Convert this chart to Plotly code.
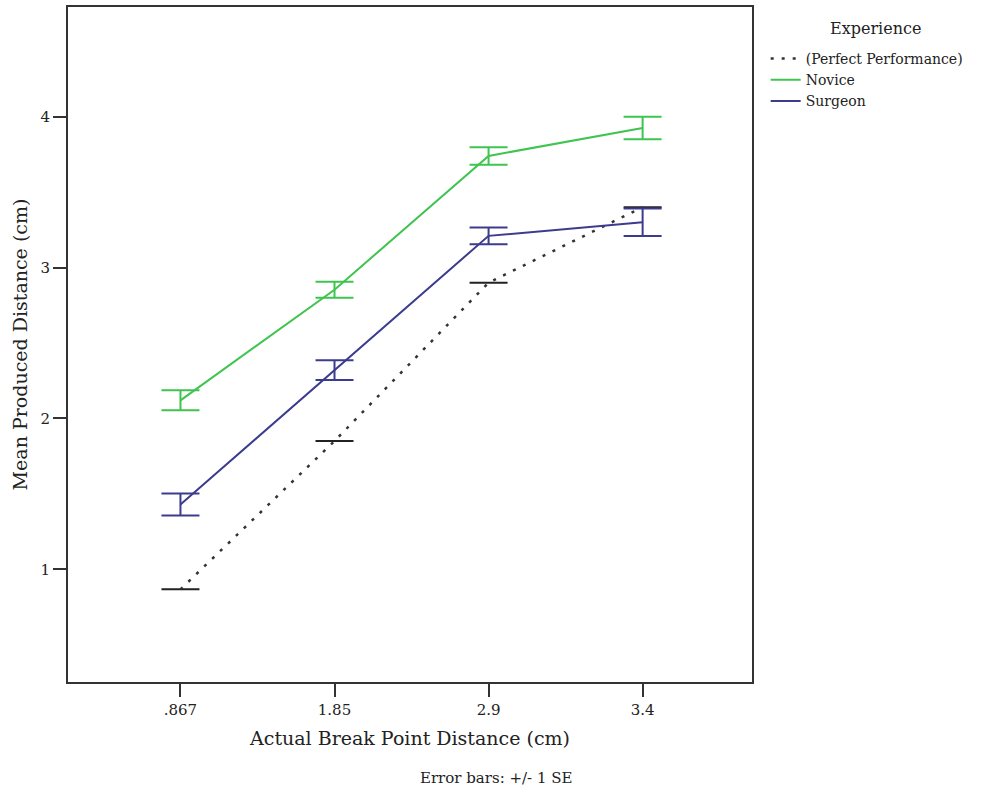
import plotly.graph_objects as go

categories = [".867", "1.85", "2.9", "3.4"]
perfect = [0.867, 1.85, 2.9, 3.4]
novice_mean = [2.12, 2.853, 3.74, 3.925]
novice_se = [0.066, 0.053, 0.058, 0.075]
surgeon_mean = [1.43, 2.32, 3.21, 3.30]
surgeon_se = [0.073, 0.066, 0.055, 0.091]

FONT = "DejaVu Serif"
GREEN = "#3ec44f"
NAVY = "#3c3c8e"

fig = go.Figure()
fig.add_trace(go.Scatter(
    x=categories, y=perfect, mode="lines", name="(Perfect Performance)",
    line=dict(color="#333333", width=2.5, dash="3px,8px"),
    error_y=dict(type="data", array=[0, 0, 0, 0], color="#222222", thickness=2, width=19),
))
fig.add_trace(go.Scatter(
    x=categories, y=novice_mean, mode="lines", name="Novice",
    line=dict(color=GREEN, width=2),
    error_y=dict(type="data", array=novice_se, color=GREEN, thickness=2, width=19),
))
fig.add_trace(go.Scatter(
    x=categories, y=surgeon_mean, mode="lines", name="Surgeon",
    line=dict(color=NAVY, width=2),
    error_y=dict(type="data", array=surgeon_se, color=NAVY, thickness=2, width=19),
))

PW = 752 - 68
PH = 682 - 5

fig.update_layout(
    width=985, height=800,
    margin=dict(l=68, r=233, t=5, b=118),
    paper_bgcolor="white", plot_bgcolor="white",
    font=dict(family=FONT, color="#222222", size=14),
    showlegend=True,
    legend=dict(
        x=1.02, y=1 - (41 - 5) / PH, xanchor="left", yanchor="top",
        font=dict(size=14, family=FONT),
        itemwidth=30, tracegroupgap=0,
        bgcolor="rgba(0,0,0,0)",
    ),
    annotations=[
        dict(
            text="Error bars: +/- 1 SE", xref="paper", yref="paper",
            x=(497 - 68) / PW, y=-(778 - 682) / PH,
            xanchor="center", yanchor="middle", showarrow=False,
            font=dict(size=15, family=FONT, color="#222222"),
        ),
        dict(
            text="Experience", xref="paper", yref="paper",
            x=(875 - 68) / PW, y=1 - (27 - 5) / PH,
            xanchor="center", yanchor="middle", showarrow=False,
            font=dict(size=16, family=FONT, color="#222222"),
        ),
    ],
)
fig.update_xaxes(
    type="category", range=[-0.73, 3.71],
    showline=True, linecolor="#333333", linewidth=2, mirror=True,
    ticks="outside", ticklen=13, tickwidth=1.5, tickcolor="#333333",
    showgrid=False, zeroline=False,
    tickfont=dict(size=15, family=FONT),
    title=dict(text="Actual Break Point Distance (cm)", font=dict(size=19, family=FONT), standoff=14),
)
fig.update_yaxes(
    range=[0.253, 4.727], tickvals=[1, 2, 3, 4],
    showline=True, linecolor="#333333", linewidth=2, mirror=True,
    ticks="outside", ticklen=13, tickwidth=1.5, tickcolor="#333333",
    showgrid=False, zeroline=False,
    tickfont=dict(size=15, family=FONT),
    title=dict(text="Mean Produced Distance (cm)", font=dict(size=19, family=FONT), standoff=8),
)

fig.write_html("out.html")
